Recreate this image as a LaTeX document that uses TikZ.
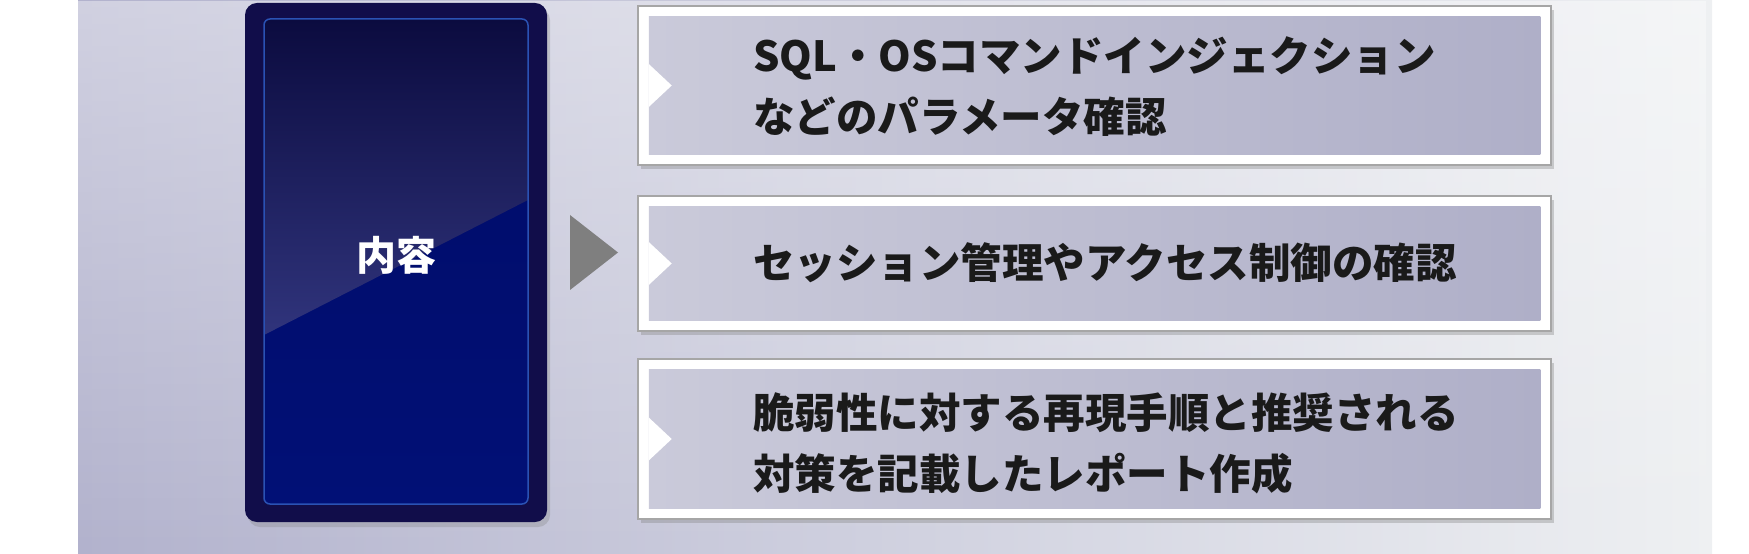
\documentclass[tikz,border=0pt]{standalone}
\usepackage{fontspec}
\setmainfont{Noto Sans CJK JP}
\usetikzlibrary{calc,positioning,shadows,fadings}
\definecolor{panelL}{HTML}{B2B2CD}
\definecolor{panelR}{HTML}{EEF0F2}
\definecolor{navyout}{HTML}{110D4A}
\definecolor{navyline}{HTML}{2A52B4}
\definecolor{navytop}{HTML}{0B0B3F}
\definecolor{navymid}{HTML}{30347C}
\definecolor{navylow}{HTML}{000B68}
\definecolor{navybot}{HTML}{011076}
\definecolor{arrowgray}{HTML}{7F7F7F}
\definecolor{framegray}{HTML}{A6A6A6}
\definecolor{itemL}{HTML}{CACADA}
\definecolor{itemR}{HTML}{AFAFC8}
\definecolor{ink}{HTML}{1A1A1A}
\begin{document}
\begin{tikzpicture}[x=1bp,y=-1bp,
	frame/.style={draw=framegray,line width=2.5bp,fill=white,minimum width=913bp,inner sep=0pt,
		drop shadow={shadow xshift=3bp,shadow yshift=-4bp,opacity=.35}},
	itemtext/.style={anchor=west,align=left,text=ink,inner sep=0pt,
		font=\fontsize{41.5bp}{61bp}\selectfont\bfseries}]
	\useasboundingbox (0,0) rectangle (1749,554);
	% background panel
	\shade[left color=panelL,right color=panelR] (78,0) rectangle (1712,554);
	\fill[white,path fading=south,opacity=.4] (78,0) rectangle (1712,554);
	% left box
	\node[fill=navyout,rounded corners=12bp,minimum width=302bp,minimum height=519bp,
		drop shadow={shadow xshift=3bp,shadow yshift=-5bp,opacity=.3}] (naiyou) at (396,262.5) {};
	\begin{scope}
		\clip[rounded corners=6bp] (264,19) rectangle (528,504);
		\shade[top color=navylow,bottom color=navybot] (264,19) rectangle (528,504);
		\shade[top color=navytop,bottom color=navymid] (264,19) -- (528,19) -- (528,200) -- (264,335) -- cycle;
	\end{scope}
	\draw[navyline,line width=1.5bp,rounded corners=6bp] (264,19) rectangle (528,504);
	\node[text=white,font=\fontsize{40bp}{48bp}\selectfont\bfseries] (label) at (396,255) {内容};
	% arrow
	\fill[arrowgray] (570,215) -- (618,252.5) -- (570,290) -- cycle;
	% items
	\node[frame,minimum height=159bp] (box1) at (1094.5,85.5) {};
	\node[frame,minimum height=135bp] (box2) at (1094.5,263.5) {};
	\node[frame,minimum height=160bp] (box3) at (1094.5,439) {};
	\shade[left color=itemL,right color=itemR] ($(box1.north west)+(12,12)$) rectangle ($(box1.south east)+(-12,-12)$);
	\shade[left color=itemL,right color=itemR] ($(box2.north west)+(12,12)$) rectangle ($(box2.south east)+(-12,-12)$);
	\shade[left color=itemL,right color=itemR] ($(box3.north west)+(12,12)$) rectangle ($(box3.south east)+(-12,-12)$);
	\fill[white] ($(box1.west)+(12,-21.5)$) -- ($(box1.west)+(35,0)$) -- ($(box1.west)+(12,21.5)$) -- cycle;
	\fill[white] ($(box2.west)+(12,-21.5)$) -- ($(box2.west)+(35,0)$) -- ($(box2.west)+(12,21.5)$) -- cycle;
	\fill[white] ($(box3.west)+(12,-21.5)$) -- ($(box3.west)+(35,0)$) -- ($(box3.west)+(12,21.5)$) -- cycle;
	\node[itemtext] (item1) at (753,86.5) {SQL・OSコマンドインジェクション\\などのパラメータ確認};
	\node[itemtext] (item2) at (753,263) {セッション管理やアクセス制御の確認};
	\node[itemtext] (item3) at (753,443) {脆弱性に対する再現手順と推奨される\\対策を記載したレポート作成};
\end{tikzpicture}
\end{document}
